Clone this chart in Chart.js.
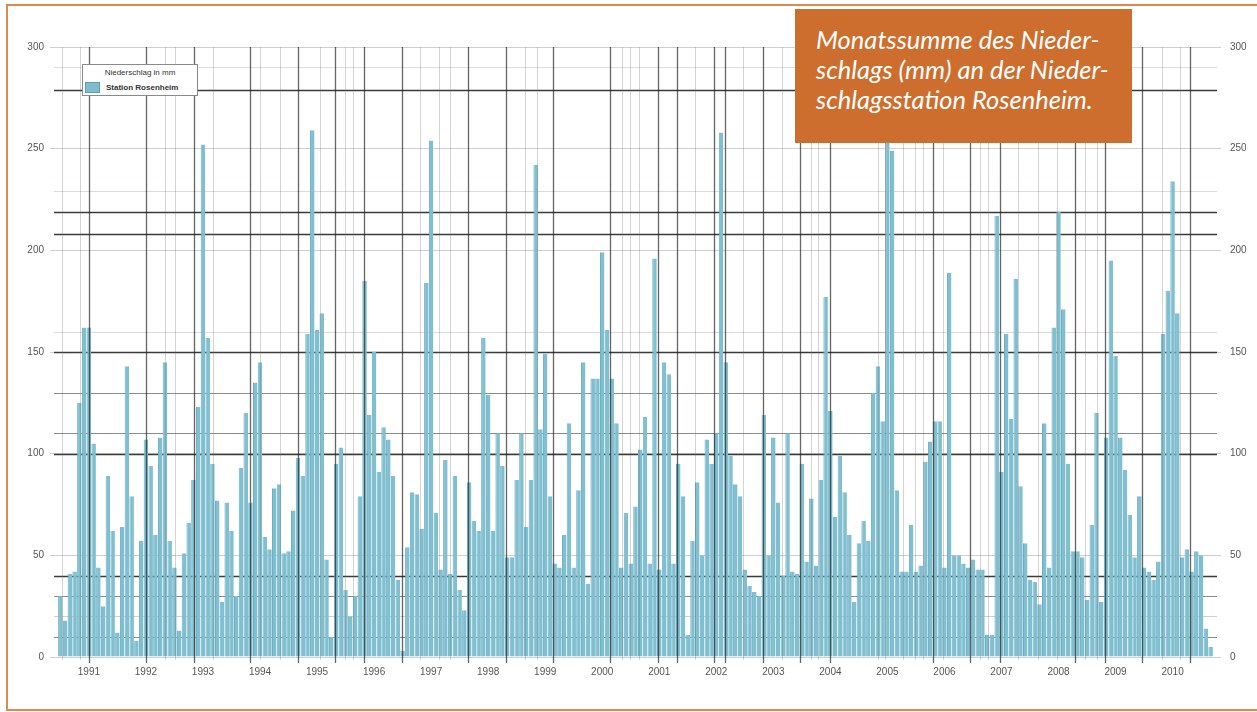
<!DOCTYPE html>
<html>
<head>
<meta charset="utf-8">
<script src="https://cdn.jsdelivr.net/npm/chart.js@4.4.1/dist/chart.umd.min.js"></script>
<style>
  html, body { margin: 0; padding: 0; background: #fff; }
  #wrap { position: relative; width: 1257px; height: 712px; overflow: hidden; }
  #frame { position: absolute; left: 6px; top: 4px; width: 1300px; height: 703px;
           border: 2px solid #e0894e; border-right: none; }
  #chart { position: absolute; left: 0; top: 0; }
  #legend { position: absolute; left: 82px; top: 64px; width: 114px; height: 30px;
            background: #fff; border: 1px solid #8a8a8a; font-family: "Liberation Sans", Arial, sans-serif;
            font-size: 8px; color: #333; }
  #legend .ttl { text-align: center; margin-top: 3px; }
  #legend .item { position: absolute; left: 2px; top: 17px; white-space: nowrap; }
  #legend .sw { display: inline-block; width: 13px; height: 9px; background: #7dbdcf;
                border: 1px solid #5b9fb4; vertical-align: middle; margin-right: 6px; }
  #legend .lbl { font-weight: bold; vertical-align: middle; }
  #note { position: absolute; left: 795px; top: 9px; width: 337px; height: 134px; background: #cd6e2e;
          color: #fff; font-family: Lato, "Open Sans", sans-serif; font-style: italic; font-size: 25.5px;
          line-height: 30px; box-sizing: border-box; padding: 15px 0 0 21px; white-space: nowrap; }
</style>
</head>
<body>
<div id="wrap">
  <div id="frame"></div>
  <canvas id="chart" width="1257" height="712"></canvas>
  <div id="legend">
    <div class="ttl">Niederschlag in mm</div>
    <div class="item"><span class="sw"></span><span class="lbl">Station Rosenheim</span></div>
  </div>
  <div id="note">Monatssumme des Nieder-<br>schlags (mm) an der Nieder-<br>schlagsstation Rosenheim.</div>
</div>
<script>
// Jahresbeschriftung der x-Achse
const yearLabels = ['1991', '1992', '1993', '1994', '1995', '1996', '1997', '1998', '1999', '2000',
                    '2001', '2002', '2003', '2004', '2005', '2006', '2007', '2008', '2009', '2010'];

// Monatssummen in mm, Jan 1991 bis Mär 2011
const monthlyRain = [
  30, 18, 41, 42, 125, 162, 162, 105, 44, 25, 89, 62,      // 1991
  12, 64, 143, 79, 8, 57, 107, 94, 60, 108, 145, 57,       // 1992
  44, 13, 51, 66, 87, 123, 252, 157, 95, 77, 27, 76,       // 1993
  62, 30, 93, 120, 76, 135, 145, 59, 53, 83, 85, 51,       // 1994
  52, 72, 98, 89, 159, 259, 161, 169, 48, 10, 95, 103,     // 1995
  33, 20, 30, 79, 185, 119, 150, 91, 113, 107, 89, 38,     // 1996
  3, 54, 81, 80, 63, 184, 254, 71, 43, 97, 41, 89,         // 1997
  33, 23, 86, 67, 62, 157, 129, 62, 110, 94, 49, 49,       // 1998
  87, 110, 64, 87, 242, 112, 149, 79, 46, 44, 60, 115,     // 1999
  44, 82, 145, 36, 137, 137, 199, 161, 137, 115, 44, 71,   // 2000
  46, 74, 102, 118, 46, 196, 43, 145, 139, 46, 95, 79,     // 2001
  11, 57, 86, 50, 107, 95, 110, 258, 145, 99, 85, 79,      // 2002
  43, 35, 32, 30, 119, 50, 108, 76, 40, 110, 42, 41,       // 2003
  95, 47, 78, 45, 87, 177, 121, 69, 99, 81, 60, 27,        // 2004
  56, 67, 57, 130, 143, 116, 255, 249, 82, 42, 42, 65,     // 2005
  42, 45, 96, 106, 116, 116, 44, 189, 50, 50, 46, 44,      // 2006
  48, 43, 43, 11, 11, 217, 91, 159, 117, 186, 84, 56,      // 2007
  38, 37, 26, 115, 44, 162, 219, 171, 95, 52, 52, 49,      // 2008
  28, 65, 120, 27, 108, 195, 148, 108, 92, 70, 49, 79,     // 2009
  44, 42, 38, 47, 159, 180, 234, 169, 49, 53, 42, 52,      // 2010
  50, 14, 5                                                // 2011
];

const yTicks = [0, 50, 100, 150, 200, 250, 300];

const months = monthlyRain.map((_, i) =>
  (1991 + Math.floor(i / 12)) + '-' + String(i % 12 + 1).padStart(2, '0'));

// Rasterlinien des Originals (Wert, Farbe, Breite)
const hLines = [
  [279, '#3a3a3a', 1.3], [219, '#3a3a3a', 1.3], [208, '#3a3a3a', 1.3],
  [150, '#3a3a3a', 1.3], [100, '#3a3a3a', 1.3], [40, '#3a3a3a', 1.3],
  [130, '#8a8a8a', 1], [110, '#8a8a8a', 1], [30, '#8a8a8a', 1], [10, '#8a8a8a', 1],
  [290, '#dcdcdc', 1], [229, '#e6d6d6', 1], [160, '#e6d6d6', 1], [20, '#d0d0d0', 1]
];
const vLinesDark = [6.0, 18.0, 28.1, 39.9, 50, 57.8, 63.9, 71.9, 85.8, 93.8, 103.6, 115.6, 125.7,
                    129.7, 137.5, 139.8, 147.8, 155.6, 161.9, 183.6, 191.4, 197.7, 213.5, 219.8, 227.6, 237.7];
const vLinesLight = [0.3, 4.1, 22, 24.1, 32.1, 42, 46.2, 54.6, 59.9, 61.6, 75.7, 79.7, 82, 97.8, 100.3,
                     118.2, 119.9, 121.7, 133.5, 143.6, 151.8, 157.9, 159.4, 172, 173.5, 177.3, 179.8,
                     181.5, 185.7, 193.5, 195.2, 201.5, 205.7, 209.7, 215.6, 218.1, 231.8, 235.6];

const overlayLines = {
  id: 'overlayLines',
  beforeDatasetsDraw(chart) {
    const { ctx, chartArea: a, scales: { y } } = chart;
    ctx.save();
    hLines.forEach(([v, c, w]) => {
      const py = Math.round(y.getPixelForValue(v)) + 0.5;
      ctx.strokeStyle = c;
      ctx.lineWidth = w;
      ctx.beginPath();
      ctx.moveTo(a.left - 4, py);
      ctx.lineTo(a.right + 4, py);
      ctx.stroke();
    });
    ctx.restore();
  },
  afterDatasetsDraw(chart) {
    const { ctx, chartArea: a, scales: { x } } = chart;
    const x0 = x.getPixelForValue(0);
    const step = x.getPixelForValue(1) - x0;
    const draw = (list, color, w, extra) => {
      ctx.strokeStyle = color;
      ctx.lineWidth = w;
      list.forEach(m => {
        const px = Math.round(x0 + m * step) + 0.5;
        ctx.beginPath();
        ctx.moveTo(px, a.top);
        ctx.lineTo(px, a.bottom + extra);
        ctx.stroke();
      });
    };
    ctx.save();
    draw(vLinesLight, 'rgba(110,110,110,0.3)', 1, 3);
    draw(vLinesDark, 'rgba(35,35,35,0.7)', 1.3, 6);
    ctx.restore();
  }
};

const tickFont = { family: '"Liberation Sans", Arial, sans-serif', size: 10 };

new Chart(document.getElementById('chart'), {
  type: 'bar',
  data: {
    labels: months,
    datasets: [{
      label: 'Station Rosenheim',
      data: monthlyRain,
      backgroundColor: '#80bfd0',
      borderColor: '#6aafc3',
      borderWidth: { left: 1, right: 0, top: 0, bottom: 0 },
      barPercentage: 0.95,
      categoryPercentage: 1
    }]
  },
  options: {
    responsive: false,
    animation: false,
    layout: { padding: { top: 47, left: 0, right: 0, bottom: 0 } },
    plugins: { legend: { display: false }, tooltip: { enabled: false } },
    scales: {
      x: {
        grid: { display: false, drawTicks: false },
        border: { display: false },
        ticks: {
          autoSkip: false, maxRotation: 0, minRotation: 0, padding: 9,
          color: '#555', font: tickFont,
          callback: (v, i) => (i % 12 === 6 && yearLabels[Math.floor(i / 12)]) || ''
        },
        afterFit: s => { s.height = 55; }
      },
      y: {
        position: 'left', min: 0, max: 300,
        border: { display: false },
        grid: { color: '#cfcfcf', tickLength: 8 },
        ticks: {
          stepSize: 50, padding: 6, color: '#555', font: tickFont,
          callback: v => yTicks.includes(v) ? v : ''
        },
        afterFit: s => { s.width = 58; }
      },
      y2: {
        position: 'right', min: 0, max: 300,
        border: { display: false },
        grid: { drawOnChartArea: false, color: '#cfcfcf', tickLength: 8 },
        ticks: {
          stepSize: 50, padding: 9, color: '#555', font: tickFont,
          callback: v => yTicks.includes(v) ? v : ''
        },
        afterFit: s => { s.width = 44; }
      }
    }
  },
  plugins: [overlayLines]
});
</script>
</body>
</html>
